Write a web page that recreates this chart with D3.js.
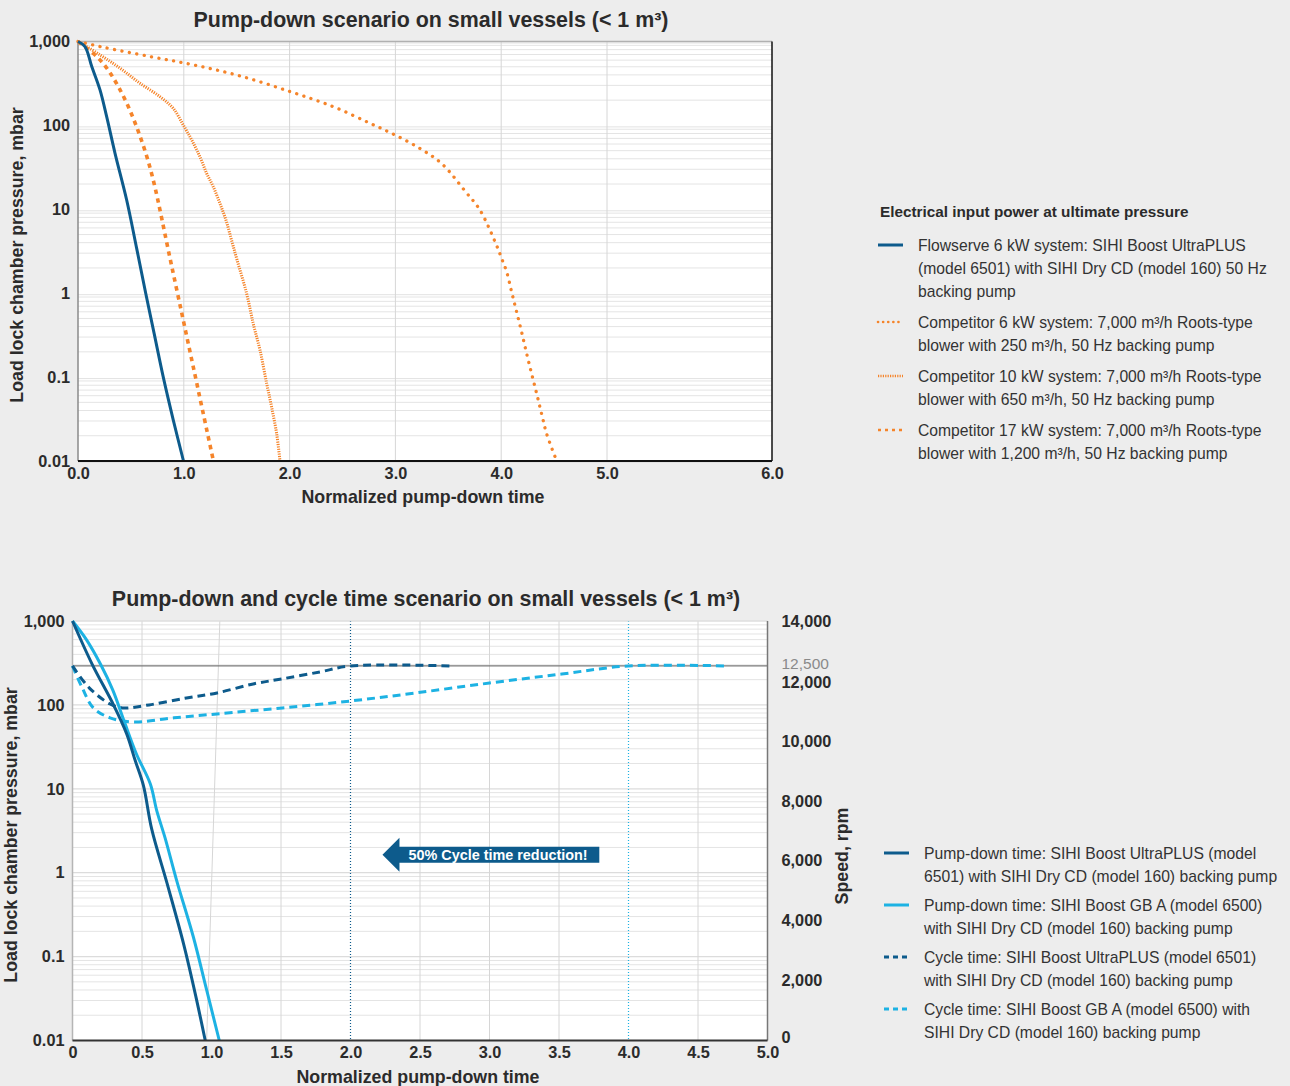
<!DOCTYPE html>
<html><head><meta charset="utf-8">
<script src="https://cdn.jsdelivr.net/npm/d3@7"></script>
<style>
body{margin:0;background:#ededed;}
svg{display:block;font-family:"Liberation Sans",Arial,Helvetica,sans-serif;}
</style></head><body>
<svg id="c" width="1290" height="1086"></svg>
<script>
// ---------- DATA ----------
const pressureTicks = [1000, 100, 10, 1, 0.1, 0.01];
const pressureTickLabels = ["1,000", "100", "10", "1", "0.1", "0.01"];
const topTimeTicks = [0, 1, 2, 3, 4, 5, 6];
const topTimeTickLabels = ["0.0", "1.0", "2.0", "3.0", "4.0", "5.0", "6.0"];
const botTimeTicks = [0, 0.5, 1, 1.5, 2, 2.5, 3, 3.5, 4, 4.5, 5];
const botTimeTickLabels = ["0", "0.5", "1.0", "1.5", "2.0", "2.5", "3.0", "3.5", "4.0", "4.5", "5.0"];
const botGridTimes = [0.5, 1.5, 2.5, 3, 3.5, 4.5];
const slantGrid = [[1.06, 1000], [0.965, 0.01]];
const speedTicks = [0, 2000, 4000, 6000, 8000, 10000, 12000, 14000];
const speedTickLabels = ["0", "2,000", "4,000", "6,000", "8,000", "10,000", "12,000", "14,000"];
const speedRef = 12500;
const speedRefLabel = "12,500";

// Top chart series: [time, pressure mbar]
const flowserve6kW = [[0,1000],[0.066,871],[0.13,503],[0.208,265],[0.271,127],[0.35,46.5],[0.46,12.9],[0.555,3.4],[0.64,1],[0.72,0.33],[0.806,0.1],[0.9,0.031],[0.997,0.01]];
const competitor6kW = [[0,1000],[0.208,871],[0.68,662],[1.09,527],[1.531,389],[2.004,253],[2.413,167],[2.76,106],[2.996,77],[3.233,53],[3.438,35],[3.658,16.5],[3.8,9.75],[3.957,3.7],[4.005,2.58],[4.052,1.79],[4.099,1.03],[4.147,0.59],[4.194,0.34],[4.241,0.19],[4.288,0.109],[4.336,0.063],[4.383,0.036],[4.43,0.021],[4.525,0.01]];
const competitor10kW = [[0,1000],[0.208,693],[0.397,481],[0.586,318],[0.775,220],[0.9,160],[0.995,101],[1.075,67],[1.153,42],[1.216,26.8],[1.279,18.5],[1.342,11.7],[1.399,7.4],[1.451,4.3],[1.503,2.5],[1.594,0.99],[1.657,0.43],[1.72,0.21],[1.784,0.083],[1.83,0.044],[1.878,0.021],[1.909,0.01]];
const competitor17kW = [[0,1000],[0.18,657],[0.284,459],[0.378,295],[0.473,170],[0.558,93],[0.643,45.6],[0.718,20.6],[0.87,2.6],[1.059,0.2],[1.28,0.01]];

// Bottom chart series
const pumpUltraPlus = [[0,1000],[0.14,309],[0.295,100],[0.39,45],[0.45,22],[0.51,11],[0.57,3.3],[0.68,0.75],[0.8,0.14],[0.89,0.032],[0.955,0.01]];
const pumpGBA = [[0,1000],[0.1,600],[0.2,309],[0.29,150],[0.37,65],[0.46,26],[0.56,11.4],[0.606,5.5],[0.666,2.6],[0.75,0.8],[0.87,0.17],[0.965,0.04],[1.056,0.01]];
// [time, speed rpm]
const cycleUltraPlus = [[0,12500],[0.12,11770],[0.27,11230],[0.36,11100],[0.55,11200],[0.82,11430],[1.04,11600],[1.3,11900],[1.51,12070],[1.78,12300],[2.0,12500],[2.72,12500]];
const cycleGBA = [[0,12500],[0.07,11770],[0.15,11100],[0.27,10770],[0.44,10630],[0.73,10770],[1.04,10900],[1.51,11100],[2.0,11330],[2.47,11600],[3.0,11930],[3.52,12230],[4.0,12500],[4.7,12500]];
const cycleEndUltraPlus = 2.0;
const cycleEndGBA = 4.0;
const annotation = {tip: 2.23, end: 3.79, speed: 6200, text: "50% Cycle time reduction!"};

const titles = ["Pump-down scenario on small vessels (< 1 m³)", "Pump-down and cycle time scenario on small vessels (< 1 m³)"];
const xTitle = "Normalized pump-down time";
const yTitle = "Load lock chamber pressure, mbar";
const speedTitle = "Speed, rpm";
const legendTopTitle = "Electrical input power at ultimate pressure";
const legendTopItems = [
  ["Flowserve 6 kW system: SIHI Boost UltraPLUS", "(model 6501) with SIHI Dry CD (model 160) 50 Hz", "backing pump"],
  ["Competitor 6 kW system: 7,000 m³/h Roots-type", "blower with 250 m³/h, 50 Hz backing pump"],
  ["Competitor 10 kW system: 7,000 m³/h Roots-type", "blower with 650 m³/h, 50 Hz backing pump"],
  ["Competitor 17 kW system: 7,000 m³/h Roots-type", "blower with 1,200 m³/h, 50 Hz backing pump"]
];
const legendBotItems = [
  ["Pump-down time: SIHI Boost UltraPLUS (model", "6501) with SIHI Dry CD (model 160) backing pump"],
  ["Pump-down time: SIHI Boost GB A (model 6500)", "with SIHI Dry CD (model 160) backing pump"],
  ["Cycle time: SIHI Boost UltraPLUS (model 6501)", "with SIHI Dry CD (model 160) backing pump"],
  ["Cycle time: SIHI Boost GB A (model 6500) with", "SIHI Dry CD (model 160) backing pump"]
];

// ---------- STYLES ----------
const DARK = "#0d5b8c", LIGHT = "#1db2e3", ORANGE = "#f5842a", TXT = "#2b2b2b";
const topStyles = [
  {color: DARK, width: 3, dash: null, cap: "butt"},
  {color: ORANGE, width: 3.3, dash: "0.1 7.4", cap: "round"},
  {color: ORANGE, width: 3, dash: "1.2 1.2", cap: "butt"},
  {color: ORANGE, width: 3.6, dash: "4.5 4.5", cap: "butt"}
];
const botStyles = [
  {color: DARK, width: 3, dash: null},
  {color: LIGHT, width: 3, dash: null},
  {color: DARK, width: 3, dash: "8 5"},
  {color: LIGHT, width: 3, dash: "8 5"}
];
const TICK_FS = 16.3, TITLE_FS = 21.4, AXT_FS = 17.8, LEG_FS = 15.7;

const svg = d3.select("#c");
const curve = d3.curveCatmullRom.alpha(0.5);

function minorValues() {
  const v = [];
  for (let e = -2; e < 3; e++) for (let k = 2; k <= 9; k++) v.push(k * Math.pow(10, e));
  return v;
}
function styleAxis(a) {
  a.select(".domain").remove();
  a.selectAll("text").attr("font-size", TICK_FS).attr("font-weight", "bold").attr("fill", TXT)
    .style("font-family", "Liberation Sans, Arial, sans-serif");
}

// ---------- TOP CHART ----------
{
  const L = 78, R = 772, T = 41.5, B = 461;
  const x = d3.scaleLinear().domain([0, 5, 6]).range([L, 607, R]);
  const y = d3.scaleLog().domain([0.01, 1000]).range([B, T]);
  const g = svg.append("g");
  g.append("rect").attr("x", L).attr("y", T).attr("width", R - L).attr("height", B - T).attr("fill", "#fff");
  g.selectAll(".mn").data(minorValues()).join("line").attr("x1", L).attr("x2", R)
    .attr("y1", d => y(d)).attr("y2", d => y(d)).attr("stroke", "#e4e4e4").attr("stroke-width", 1);
  g.selectAll(".mj").data(pressureTicks).join("line").attr("x1", L).attr("x2", R)
    .attr("y1", d => y(d) + 1.5).attr("y2", d => y(d) + 1.5).attr("stroke", "#e2e2e2").attr("stroke-width", 1);
  g.selectAll(".vg").data([1, 2, 3, 4, 5]).join("line").attr("x1", d => x(d)).attr("x2", d => x(d))
    .attr("y1", T).attr("y2", B).attr("stroke", "#d6d6d6").attr("stroke-width", 1);
  g.append("line").attr("x1", L).attr("x2", R).attr("y1", T).attr("y2", T).attr("stroke", "#b0b0b0").attr("stroke-width", 1.5);
  g.append("line").attr("x1", L).attr("x2", L).attr("y1", T).attr("y2", B).attr("stroke", "#8a8a8a").attr("stroke-width", 1.5);
  g.append("line").attr("x1", R).attr("x2", R).attr("y1", T).attr("y2", B).attr("stroke", "#111").attr("stroke-width", 1.5);

  const line = d3.line().x(d => x(d[0])).y(d => y(d[1])).curve(curve);
  const series = [flowserve6kW, competitor6kW, competitor10kW, competitor17kW];
  [3, 2, 1, 0].forEach(i => {
    const s = topStyles[i];
    g.append("path").attr("d", line(series[i])).attr("fill", "none").attr("stroke", s.color)
      .attr("stroke-width", s.width).attr("stroke-dasharray", s.dash).attr("stroke-linecap", s.cap);
  });
  g.append("line").attr("x1", L).attr("x2", R).attr("y1", B).attr("y2", B).attr("stroke", "#111").attr("stroke-width", 2);

  styleAxis(g.append("g").attr("transform", `translate(${L},0)`)
    .call(d3.axisLeft(y).tickValues(pressureTicks).tickFormat((d, i) => pressureTickLabels[i]).tickSize(0).tickPadding(8)));
  styleAxis(g.append("g").attr("transform", `translate(0,${B})`)
    .call(d3.axisBottom(x).tickValues(topTimeTicks).tickFormat((d, i) => topTimeTickLabels[i]).tickSize(0).tickPadding(6)));

  svg.append("text").attr("x", 431).attr("y", 27).attr("text-anchor", "middle").attr("font-size", TITLE_FS).attr("font-weight", "bold").attr("fill", TXT).text(titles[0]);
  svg.append("text").attr("x", 423).attr("y", 503).attr("text-anchor", "middle").attr("font-size", AXT_FS).attr("font-weight", "bold").attr("fill", TXT).text(xTitle);
  svg.append("text").attr("transform", "translate(23,255) rotate(-90)").attr("text-anchor", "middle").attr("font-size", AXT_FS).attr("font-weight", "bold").attr("fill", TXT).text(yTitle);

  const lg = svg.append("g");
  lg.append("text").attr("x", 880).attr("y", 217).attr("font-size", 15.3).attr("font-weight", "bold").attr("fill", TXT).text(legendTopTitle);
  const rowY = [245, 322, 376, 430];
  legendTopItems.forEach((lines, i) => {
    const s = topStyles[i];
    lg.append("line").attr("x1", 878).attr("x2", 903).attr("y1", rowY[i]).attr("y2", rowY[i])
      .attr("stroke", s.color).attr("stroke-width", i === 0 ? 3 : 2.6).attr("stroke-dasharray", i === 1 ? "0.1 5" : (i === 3 ? "3 4" : s.dash)).attr("stroke-linecap", s.cap);
    lines.forEach((t, j) => {
      lg.append("text").attr("x", 918).attr("y", rowY[i] + 5.5 + j * 23).attr("font-size", LEG_FS).attr("fill", "#333").text(t);
    });
  });
}

// ---------- BOTTOM CHART ----------
{
  const L = 72.5, R = 767.5, T = 621, B = 1040.5;
  const x = d3.scaleLinear().domain([0, 5]).range([L, R]);
  const y = d3.scaleLog().domain([0.01, 1000]).range([B, T]);
  const ys = d3.scaleLinear().domain([0, 14000]).range([B, T]);
  const g = svg.append("g");
  g.append("rect").attr("x", L).attr("y", T).attr("width", R - L).attr("height", B - T).attr("fill", "#fff");
  g.selectAll(".mn").data(minorValues()).join("line").attr("x1", L).attr("x2", R)
    .attr("y1", d => y(d)).attr("y2", d => y(d)).attr("stroke", "#e4e4e4").attr("stroke-width", 1);
  g.selectAll(".mj").data(pressureTicks).join("line").attr("x1", L).attr("x2", R)
    .attr("y1", d => y(d)).attr("y2", d => y(d)).attr("stroke", "#dcdcdc").attr("stroke-width", 1.2);
  g.selectAll(".vg").data(botGridTimes).join("line").attr("x1", d => x(d)).attr("x2", d => x(d))
    .attr("y1", T).attr("y2", B).attr("stroke", "#d6d6d6").attr("stroke-width", 1);
  g.append("line").attr("x1", x(slantGrid[0][0])).attr("y1", y(slantGrid[0][1])).attr("x2", x(slantGrid[1][0])).attr("y2", y(slantGrid[1][1]))
    .attr("stroke", "#d6d6d6").attr("stroke-width", 1);
  g.append("line").attr("x1", L).attr("x2", R).attr("y1", ys(speedRef)).attr("y2", ys(speedRef)).attr("stroke", "#7a7a7a").attr("stroke-width", 1.2);
  g.append("line").attr("x1", x(cycleEndUltraPlus)).attr("x2", x(cycleEndUltraPlus)).attr("y1", T).attr("y2", B)
    .attr("stroke", DARK).attr("stroke-width", 1.2).attr("stroke-dasharray", "1 2");
  g.append("line").attr("x1", x(cycleEndGBA)).attr("x2", x(cycleEndGBA)).attr("y1", T).attr("y2", B)
    .attr("stroke", LIGHT).attr("stroke-width", 1.2).attr("stroke-dasharray", "1 2");
  g.append("line").attr("x1", L).attr("x2", R).attr("y1", T).attr("y2", T).attr("stroke", "#e0e0e0").attr("stroke-width", 1);
  g.append("line").attr("x1", L).attr("x2", L).attr("y1", T).attr("y2", B).attr("stroke", "#b5b5b5").attr("stroke-width", 1.5);
  g.append("line").attr("x1", R).attr("x2", R).attr("y1", T).attr("y2", B).attr("stroke", "#777").attr("stroke-width", 1.5);

  const lineP = d3.line().x(d => x(d[0])).y(d => y(d[1])).curve(curve);
  const lineS = d3.line().x(d => x(d[0])).y(d => ys(d[1])).curve(curve);
  const paths = [lineP(pumpUltraPlus), lineP(pumpGBA), lineS(cycleUltraPlus), lineS(cycleGBA)];
  [3, 2, 1, 0].forEach(i => {
    const s = botStyles[i];
    g.append("path").attr("d", paths[i]).attr("fill", "none").attr("stroke", s.color)
      .attr("stroke-width", s.width).attr("stroke-dasharray", s.dash);
  });
  g.append("line").attr("x1", L).attr("x2", R).attr("y1", B).attr("y2", B).attr("stroke", "#333").attr("stroke-width", 2);

  const ay = ys(annotation.speed), xt = x(annotation.tip), xe = x(annotation.end);
  const hl = 17, hh = 17, bh = 8;
  g.append("path").attr("d", `M${xt},${ay} L${xt + hl},${ay - hh} L${xt + hl},${ay - bh} L${xe},${ay - bh} L${xe},${ay + bh} L${xt + hl},${ay + bh} L${xt + hl},${ay + hh} Z`)
    .attr("fill", DARK);
  g.append("text").attr("x", xt + hl + 9).attr("y", ay + 5).attr("font-size", 14.4).attr("font-weight", "bold").attr("fill", "#fff").text(annotation.text);

  styleAxis(g.append("g").attr("transform", `translate(${L},0)`)
    .call(d3.axisLeft(y).tickValues(pressureTicks).tickFormat((d, i) => pressureTickLabels[i]).tickSize(0).tickPadding(8)));
  styleAxis(g.append("g").attr("transform", `translate(0,${B})`)
    .call(d3.axisBottom(x).tickValues(botTimeTicks).tickFormat((d, i) => botTimeTickLabels[i]).tickSize(0).tickPadding(6)));
  const ra = g.append("g").attr("transform", `translate(${R},0)`)
    .call(d3.axisRight(ys).tickValues(speedTicks).tickFormat((d, i) => speedTickLabels[i]).tickSize(0).tickPadding(14));
  styleAxis(ra);
  const rr = g.append("g").attr("transform", `translate(${R},0)`)
    .call(d3.axisRight(ys).tickValues([speedRef]).tickFormat(() => speedRefLabel).tickSize(0).tickPadding(14));
  styleAxis(rr);
  rr.selectAll("text").attr("fill", "#8a8a8a").attr("font-weight", "normal").attr("font-size", 15.5).attr("dy", "0.18em");
  ra.selectAll(".tick").filter(d => d === 12000).select("text").attr("dy", "0.42em");
  ra.selectAll(".tick").filter(d => d === 0).select("text").attr("dy", "0.1em");

  svg.append("text").attr("x", 426).attr("y", 606).attr("text-anchor", "middle").attr("font-size", TITLE_FS).attr("font-weight", "bold").attr("fill", TXT).text(titles[1]);
  svg.append("text").attr("x", 418).attr("y", 1083).attr("text-anchor", "middle").attr("font-size", AXT_FS).attr("font-weight", "bold").attr("fill", TXT).text(xTitle);
  svg.append("text").attr("transform", "translate(17,835) rotate(-90)").attr("text-anchor", "middle").attr("font-size", AXT_FS).attr("font-weight", "bold").attr("fill", TXT).text(yTitle);
  svg.append("text").attr("transform", "translate(848,856) rotate(-90)").attr("text-anchor", "middle").attr("font-size", AXT_FS).attr("font-weight", "bold").attr("fill", TXT).text(speedTitle);

  const lg = svg.append("g");
  const rowY = [853, 905, 957, 1009];
  legendBotItems.forEach((lines, i) => {
    const s = botStyles[i];
    lg.append("line").attr("x1", 884).attr("x2", 909).attr("y1", rowY[i]).attr("y2", rowY[i])
      .attr("stroke", s.color).attr("stroke-width", 3).attr("stroke-dasharray", s.dash ? "5 4" : null);
    lines.forEach((t, j) => {
      lg.append("text").attr("x", 924).attr("y", rowY[i] + 5.5 + j * 23).attr("font-size", LEG_FS).attr("fill", "#333").text(t);
    });
  });
}
</script>
</body></html>
